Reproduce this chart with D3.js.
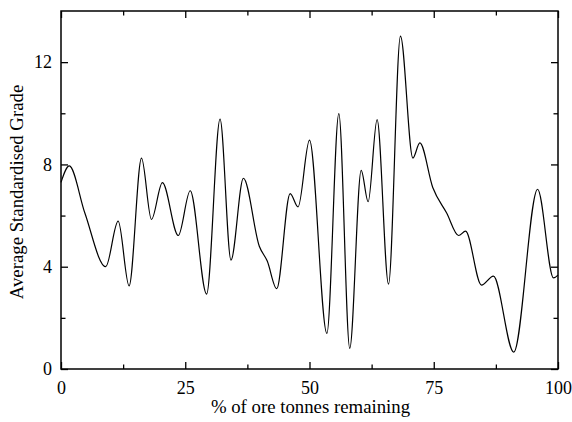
<!DOCTYPE html>
<html>
<head>
<meta charset="utf-8">
<script src="https://cdn.jsdelivr.net/npm/d3@7"></script>
<style>
  html, body { margin: 0; padding: 0; background: #fff; }
  svg { display: block; }
</style>
</head>
<body>
<svg id="chart" width="572" height="422" font-family="'Liberation Serif', 'Times New Roman', serif"></svg>
<script>
// Data (x = % of ore tonnes remaining, y = average standardised grade)
const xValues = [0, 1.67, 4.8, 9.0, 11.5, 13.7, 16.2, 18.2, 20.4, 23.6, 26.0, 29.3, 32.0, 34.2, 36.7, 39.9, 41.5, 43.4, 46.1, 47.7, 50.0, 53.5, 55.9, 58.1, 60.4, 61.8, 63.6, 65.9, 68.3, 70.8, 72.2, 74.8, 77.6, 80.0, 81.4, 84.6, 87.0, 91.1, 95.9, 99.1, 100];
const yValues = [7.3, 7.94, 6.1, 4.0, 5.78, 3.25, 8.25, 5.85, 7.29, 5.22, 6.97, 2.93, 9.77, 4.26, 7.46, 4.8, 4.22, 3.14, 6.86, 6.34, 8.95, 1.39, 9.99, 0.81, 7.77, 6.54, 9.75, 3.32, 13.02, 8.25, 8.84, 7.1, 6.1, 5.22, 5.39, 3.28, 3.63, 0.66, 7.03, 3.56, 3.67];
const xTickValues = [0, 25, 50, 75, 100];
const xMinorTicks = [12.5, 37.5, 62.5, 87.5];
const yTickValues = [0, 4, 8, 12];
const yMinorTicks = [2, 6, 10];
const xTitle = "% of ore tonnes remaining";
const yTitle = "Average Standardised Grade";

const data = xValues.map((x, i) => ({ x, y: yValues[i] }));

const FONT = "'Liberation Serif', 'Times New Roman', serif";
const svg = d3.select("#chart");
const L = 61, R = 558, T = 11, B = 369;

const x = d3.scaleLinear().domain([0, 100]).range([L, R]);
const y = d3.scaleLinear().domain([0, 14]).range([B, T]);

const majorLen = 7, minorLen = 4.5;
const tickFont = 18;
const titleFont = 18.8;

// Curve
const line = d3.line()
  .x(d => x(d.x))
  .y(d => y(d.y))
  .curve(d3.curveMonotoneX);

svg.append("path")
  .datum(data)
  .attr("d", line)
  .attr("fill", "none")
  .attr("stroke", "#000")
  .attr("stroke-width", 1.2);

// Axes (ticks inside)
function styleAxis(g) {
  g.attr("font-family", FONT).attr("font-size", tickFont);
  g.select(".domain").remove();
  g.selectAll(".tick line").attr("stroke", "#000").attr("stroke-width", 1.3);
  g.selectAll(".tick text").attr("fill", "#000");
}

// bottom
svg.append("g").attr("transform", `translate(0,${B})`)
  .call(d3.axisBottom(x).tickValues(xTickValues).tickSize(-majorLen).tickPadding(majorLen + 5).tickFormat(d3.format("d")))
  .call(styleAxis);
svg.append("g").attr("transform", `translate(0,${B})`)
  .call(d3.axisBottom(x).tickValues(xMinorTicks).tickSize(-minorLen).tickFormat(""))
  .call(styleAxis);
// top
svg.append("g").attr("transform", `translate(0,${T})`)
  .call(d3.axisTop(x).tickValues(xTickValues).tickSize(-majorLen).tickFormat(""))
  .call(styleAxis);
svg.append("g").attr("transform", `translate(0,${T})`)
  .call(d3.axisTop(x).tickValues(xMinorTicks).tickSize(-minorLen).tickFormat(""))
  .call(styleAxis);
// left
svg.append("g").attr("transform", `translate(${L},0)`)
  .call(d3.axisLeft(y).tickValues(yTickValues).tickSize(-majorLen).tickPadding(majorLen + 2).tickFormat(d3.format("d")))
  .call(styleAxis);
svg.append("g").attr("transform", `translate(${L},0)`)
  .call(d3.axisLeft(y).tickValues(yMinorTicks).tickSize(-minorLen).tickFormat(""))
  .call(styleAxis);
// right
svg.append("g").attr("transform", `translate(${R},0)`)
  .call(d3.axisRight(y).tickValues(yTickValues).tickSize(-majorLen).tickFormat(""))
  .call(styleAxis);
svg.append("g").attr("transform", `translate(${R},0)`)
  .call(d3.axisRight(y).tickValues(yMinorTicks).tickSize(-minorLen).tickFormat(""))
  .call(styleAxis);

// Frame
svg.append("rect")
  .attr("x", L).attr("y", T)
  .attr("width", R - L).attr("height", B - T)
  .attr("fill", "none")
  .attr("stroke", "#000")
  .attr("stroke-width", 1.5);

// Titles
svg.append("text")
  .attr("x", (L + R) / 2 + 1)
  .attr("y", 413)
  .attr("text-anchor", "middle")
  .attr("font-family", FONT)
  .attr("font-size", titleFont)
  .attr("fill", "#000")
  .text(xTitle);

svg.append("text")
  .attr("transform", `translate(23,${(T + B) / 2 + 2}) rotate(-90)`)
  .attr("text-anchor", "middle")
  .attr("font-family", FONT)
  .attr("font-size", titleFont)
  .attr("fill", "#000")
  .text(yTitle);
</script>
</body>
</html>
